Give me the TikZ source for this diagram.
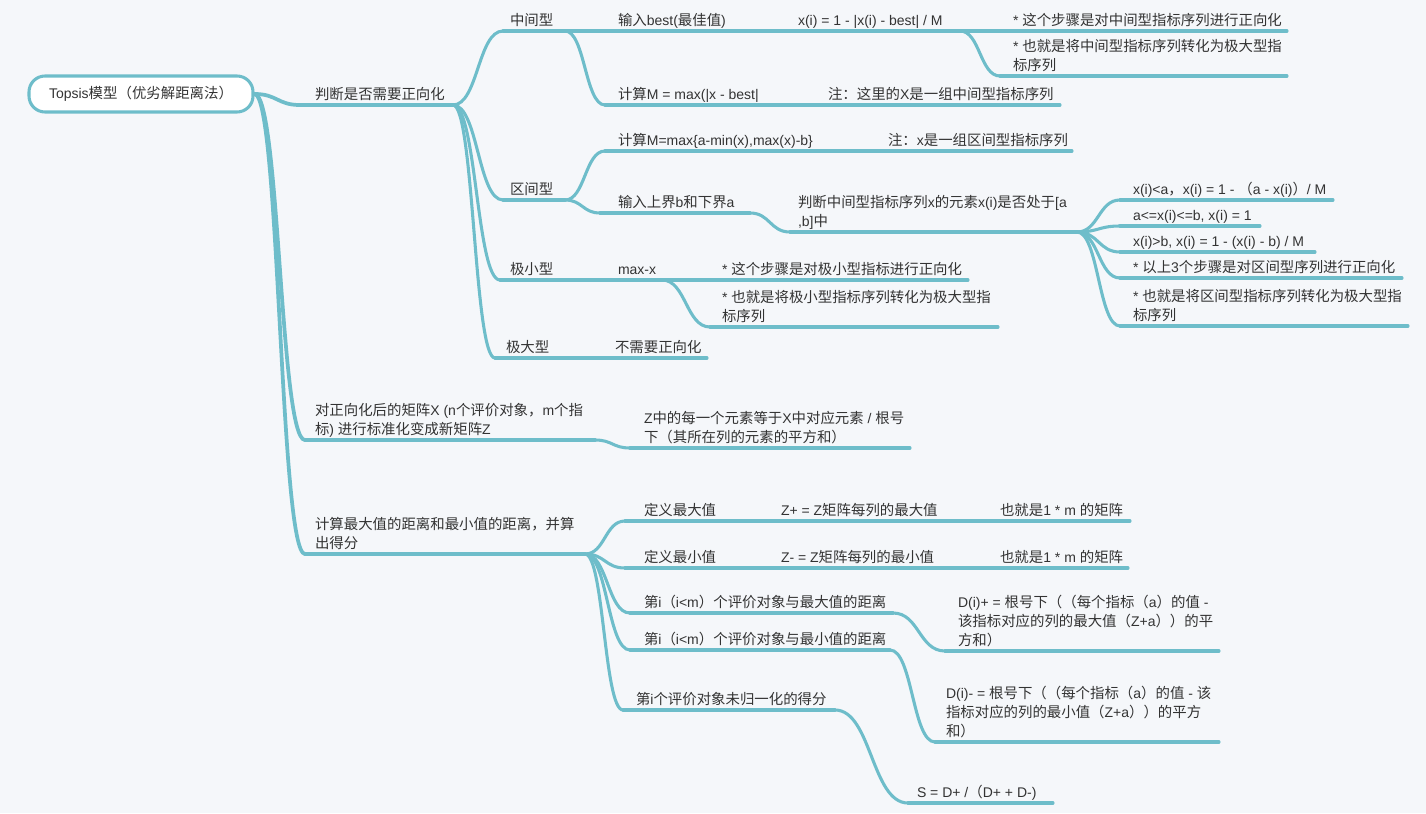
\documentclass[tikz,border=0pt]{standalone}
\usepackage{fontspec}
\setmainfont{Liberation Sans}
\newfontfamily\cjkfont[Scale=1.03]{Noto Sans CJK SC}
\usetikzlibrary{calc}
\XeTeXinterchartokenstate=1
\newcount\cjkc
\def\setcjkrange#1#2{\cjkc=#1 \loop \XeTeXcharclass\cjkc=7 \ifnum\cjkc<#2 \advance\cjkc by 1 \repeat}
\setcjkrange{"3000}{"303F}
\setcjkrange{"4E00}{"9FFF}
\setcjkrange{"FF00}{"FFEF}
\XeTeXinterchartoks 0 7 = {\cjkfont}
\XeTeXinterchartoks 4095 7 = {\cjkfont}
\XeTeXinterchartoks 7 0 = {\rmfamily}
\XeTeXinterchartoks 7 4095 = {\rmfamily}
\definecolor{bgc}{RGB}{245,247,250}
\definecolor{lnc}{RGB}{110,189,202}
\definecolor{txc}{RGB}{51,51,51}
\newcommand\fs{\fontsize{10.5pt}{14.25pt}\selectfont\lineskiplimit=-20pt\lineskip=0pt}
\newcommand\dep{\rule[-4.3pt]{0pt}{1pt}}
\tikzset{
  ul/.style={draw=lnc, line width=2.3pt, line cap=round},
  ulb/.style={draw=lnc, line width=2.8pt, line cap=round},
  tx/.style={anchor=south west, inner sep=0pt, outer sep=0pt, align=left, font=\fs, text=txc},
  rootbox/.style={draw=lnc, line width=2.3pt, fill=white, rounded corners=12pt,
    minimum width=168pt, minimum height=27pt, inner sep=0pt, text=txc, font=\fs},
  sc/.style={to path={let \p1=(\tikztostart), \p2=(\tikztotarget), \n1={(\x2-\x1)/2} in
    .. controls (\x1+\n1,\y1) and (\x2-\n1,\y2) .. (\tikztotarget)}},
}
% name, text x, underline y, start, end, text
\newcommand\topic[7][ul]{%
  \node[tx] (#2) at (#3,#4) {#7\dep};
  \coordinate (#2s) at (#5,#4);
  \coordinate (#2e) at (#6,#4);
  \draw[#1] (#2s) -- (#2e);}
\begin{document}
\begin{tikzpicture}[x=0.75pt, y=-0.75pt]
\path[use as bounding box, fill=bgc] (0,0) rectangle (1426,813);

\node[rootbox] (root) at (141,94) {Topsis模型（优劣解距离法）};

% level 1
\topic[ulb]{b1}{315}{105}{300}{453}{判断是否需要正向化}
\topic[ulb]{b2}{315}{440}{305}{595}{对正向化后的矩阵X (n个评价对象，m个指\\标) 进行标准化变成新矩阵Z}
\topic[ulb]{b3}{315}{554}{305}{585}{计算最大值的距离和最小值的距离，并算\\出得分}
\draw[ulb] (root.east) to[sc] (b1s);
\draw[ulb] (root.east) to[sc] (b2s);
\draw[ulb] (root.east) to[sc] (b3s);

% level 2 under b1
\topic{c11}{510}{31}{503}{565}{中间型}
\topic{c12}{510}{200}{503}{565}{区间型}
\topic{c13}{510}{280}{500}{565}{极小型}
\topic{c14}{506}{358}{495}{600}{极大型}
\foreach \c in {c11,c12,c13,c14} \draw[ul] (b1e) to[sc] (\c s);

% 中间型
\topic{d111}{618}{31}{600}{782}{输入best(最佳值)}
\topic{d112}{618}{105}{605}{800}{计算M = max(|x - best|}
\draw[ul] (c11e) to[sc] (d111s);
\draw[ul] (c11e) to[sc] (d112s);
\topic{e1111}{798}{31}{788}{960}{x(i) = 1 - |x(i) - best| / M}
\draw[ul] (d111e) to[sc] (e1111s);
\topic{f1}{1013}{31}{1000}{1287}{* 这个步骤是对中间型指标序列进行正向化}
\topic{f2}{1013}{76}{1000}{1287}{* 也就是将中间型指标序列转化为极大型指\\标序列}
\draw[ul] (e1111e) to[sc] (f1s);
\draw[ul] (e1111e) to[sc] (f2s);
\topic{e1121}{828}{105}{810}{1060}{注：这里的X是一组中间型指标序列}
\draw[ul] (d112e) to[sc] (e1121s);

% 区间型
\topic{d121}{618}{151}{605}{870}{计算M=max\{a-min(x),max(x)-b\}}
\topic{d122}{618}{213}{600}{750}{输入上界b和下界a}
\draw[ul] (c12e) to[sc] (d121s);
\draw[ul] (c12e) to[sc] (d122s);
\topic{e1211}{888}{151}{875}{1072}{注：x是一组区间型指标序列}
\draw[ul] (d121e) to[sc] (e1211s);
\topic{e1221}{798}{232}{790}{1077}{判断中间型指标序列x的元素x(i)是否处于[a\\,b]中}
\draw[ul] (d122e) to[sc] (e1221s);
\topic{g1}{1133}{200}{1120}{1333}{x(i)<a，x(i) = 1 - （a - x(i)）/ M}
\topic{g2}{1133}{226}{1120}{1260}{a<=x(i)<=b, x(i) = 1}
\topic{g3}{1133}{252}{1120}{1315}{x(i)>b, x(i) = 1 - (x(i) - b) / M}
\topic{g4}{1133}{278}{1120}{1402}{* 以上3个步骤是对区间型序列进行正向化}
\topic{g5}{1133}{326}{1120}{1408}{* 也就是将区间型指标序列转化为极大型指\\标序列}
\foreach \g in {g1,g2,g3,g4,g5} \draw[ul] (e1221e) to[sc] (\g s);

% 极小型
\topic{d131}{618}{280}{600}{662}{max-x}
\draw[ul] (c13e) to[sc] (d131s);
\topic{e1311}{722}{280}{700}{968}{* 这个步骤是对极小型指标进行正向化}
\topic{e1312}{722}{327}{710}{998}{* 也就是将极小型指标序列转化为极大型指\\标序列}
\draw[ul] (d131e) to[sc] (e1311s);
\draw[ul] (d131e) to[sc] (e1312s);

% 极大型
\topic{d141}{615}{358}{605}{707}{不需要正向化}
\draw[ul] (c14e) to[sc] (d141s);

% b2 child
\topic{d21}{644}{448}{630}{910}{Z中的每一个元素等于X中对应元素 / 根号\\下（其所在列的元素的平方和）}
\draw[ul] (b2e) to[sc] (d21s);

% b3 children
\topic{d31}{644}{521}{625}{770}{定义最大值}
\topic{d32}{644}{568}{625}{770}{定义最小值}
\topic{d33}{644}{613}{630}{893}{第i（i<m）个评价对象与最大值的距离}
\topic{d34}{644}{650}{630}{890}{第i（i<m）个评价对象与最小值的距离}
\topic{d35}{636}{710}{623}{835}{第i个评价对象未归一化的得分}
\foreach \d in {d31,d32,d33,d34,d35} \draw[ul] (b3e) to[sc] (\d s);

\topic{e311}{781}{521}{775}{985}{Z+ = Z矩阵每列的最大值}
\draw[ul] (d31e) to[sc] (e311s);
\topic{f3111}{1000}{521}{990}{1130}{也就是1 * m 的矩阵}
\draw[ul] (e311e) to[sc] (f3111s);
\topic{e321}{781}{568}{775}{985}{Z- = Z矩阵每列的最小值}
\draw[ul] (d32e) to[sc] (e321s);
\topic{f3211}{1000}{568}{990}{1128}{也就是1 * m 的矩阵}
\draw[ul] (e321e) to[sc] (f3211s);
\topic{e331}{958}{651}{945}{1219}{D(i)+ = 根号下（（每个指标（a）的值 -\\该指标对应的列的最大值（Z+a））的平\\方和）}
\draw[ul] (d33e) to[sc] (e331s);
\topic{e341}{946}{742}{935}{1219}{D(i)- = 根号下（（每个指标（a）的值 - 该\\指标对应的列的最小值（Z+a））的平方\\和）}
\draw[ul] (d34e) to[sc] (e341s);
\topic{e351}{917}{803}{908}{1053}{S = D+ /（D+ + D-)}
\draw[ul] (d35e) to[sc] (e351s);
\end{tikzpicture}
\end{document}
